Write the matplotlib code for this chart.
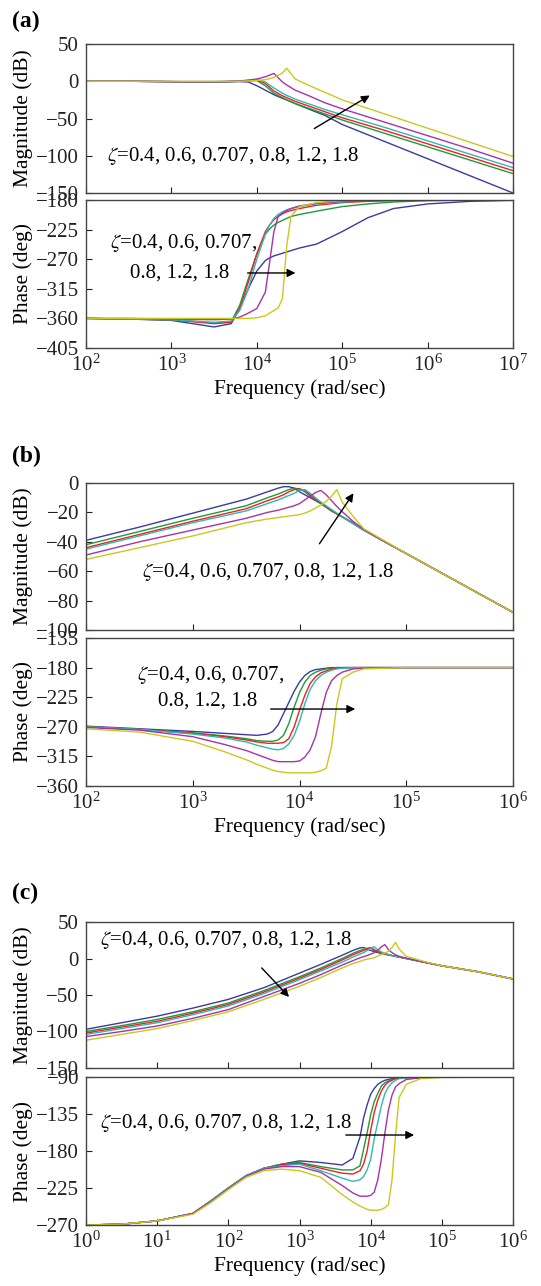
import numpy as np
import matplotlib
matplotlib.use("Agg")
import matplotlib.pyplot as plt
from matplotlib.ticker import LogLocator, NullLocator

plt.rcParams['font.family'] = ['Liberation Serif', 'DejaVu Serif']
plt.rcParams['mathtext.fontset'] = 'stix'

# plotting order, same in every panel
colors = ['#3b3ba0', '#1f9a3a', '#f02020', '#2fb8b8', '#a634a6', '#c9c91c']
zeta_text = r'$\zeta$=0.4, 0.6, 0.707, 0.8, 1.2, 1.8'

# ---- (a) magnitude, x given as log10(w)
a_mag_logw = [2, 2.5, 3, 3.5, 3.8, 3.9, 4.0, 4.1, 4.2, 4.3, 4.35, 4.45, 4.6, 4.8, 5.0, 5.5, 6.0, 6.5, 7.0]
a_mag_blue = [0, 0, -0.5, -1, -0.5, -1, -6, -12, -18, -23, -25, -30, -37, -46, -58, -81, -104, -127, -150]
a_mag_green = [0, 0, -0.5, -1, 0, 0.5, 1, -6, -16, -22, -25, -30, -36, -44, -52, -70, -88, -106, -124]
a_mag_red = [0, 0, -0.5, -1, 0, 1, 2, -3, -13, -19.5, -22, -27, -33, -41, -49, -66, -84, -102, -120]
a_mag_cyan = [0, 0, -0.5, -1, 0, 1, 2.5, -1, -9, -16, -19, -24, -30, -38, -45, -62, -80, -98, -116]
a_mag_magenta = [0, 0, -0.5, -0.5, 0.5, 1.5, 3, 6, 10.5, -1, -5, -12, -19, -29, -37, -55, -73, -91, -110]
a_mag_yellow = [0, 0, 0, 0, 0, 0.5, 1, 2, 5, 11, 17.5, 3, -5, -15, -25, -44, -63, -82, -101]

# ---- (a) phase
a_ph_logw = [2, 2.5, 3, 3.5, 3.7, 3.8, 3.9, 4.0, 4.1, 4.15, 4.2, 4.25, 4.3, 4.35, 4.4, 4.5, 4.7, 5.0, 5.3, 5.6, 6.0, 6.5, 7.0]
a_ph_blue = [-360, -361, -363, -373, -368, -345, -315, -288, -272, -268, -265, -263, -261, -259, -257, -253, -247, -228, -207, -193, -186, -182, -180.5]
a_ph_green = [-360, -361, -362, -367, -365, -340, -300, -262, -232, -224, -218, -214, -211, -208, -205, -202, -197, -190, -186, -183, -181, -180, -180]
a_ph_red = [-360, -361, -362, -368, -366, -345, -305, -262, -228, -218, -210, -205, -201, -198, -196, -193, -188, -184, -182, -181, -180, -180, -180]
a_ph_cyan = [-360, -361, -362, -366, -364, -348, -315, -270, -232, -218, -208, -202, -198, -195, -193, -190, -186, -183, -181, -180.5, -180, -180, -180]
a_ph_magenta = [-360, -360, -361, -362, -361, -358, -352, -345, -320, -275, -228, -205, -200, -196, -193, -189, -185, -182, -181, -180, -180, -180, -180]
a_ph_yellow = [-360, -360, -360, -360, -360, -360, -360, -359, -356, -352, -348, -344, -330, -250, -205, -190, -184, -181, -180, -180, -180, -180, -180]

# ---- (b) magnitude
b_mag_logw = [2, 2.5, 3, 3.5, 3.7, 3.8, 3.85, 3.9, 3.95, 4.0, 4.05, 4.1, 4.15, 4.2, 4.25, 4.3, 4.35, 4.4, 4.5, 4.6, 4.8, 5.0, 5.5, 6.0]
b_mag_blue = [-39, -30, -20.5, -11, -6, -3.5, -2.5, -2.5, -3.5, -6, -8, -10, -12, -14, -16.5, -19, -21, -23, -27, -31.5, -40, -48, -68, -88]
b_mag_green = [-42, -33, -24, -15.5, -10, -7.5, -6, -4.5, -3.5, -4, -6, -9, -11.5, -14, -16.5, -19, -21, -23, -27.5, -32, -40, -48, -68, -88]
b_mag_red = [-44, -35, -26, -17.5, -12, -9.5, -8, -6, -4.5, -4, -5, -8, -11, -13.5, -16, -18.5, -21, -23, -27.5, -32, -40, -48, -68, -88]
b_mag_cyan = [-45, -36, -27, -19, -14, -11.5, -10, -8.5, -7, -5, -4.5, -7, -10, -13, -15.5, -18, -20.5, -23, -27.5, -32, -40, -48, -68, -88]
b_mag_magenta = [-49, -40, -32, -24, -20, -18.5, -17.5, -16.5, -15.5, -14, -11.5, -9, -6.5, -5, -8, -12, -16, -19.5, -26, -31.5, -40, -48, -68, -88]
b_mag_yellow = [-52, -44, -36, -27, -24.5, -23.5, -23, -22.5, -22, -21.5, -20.5, -19, -17, -15, -12.5, -9, -4.5, -13, -22.5, -31, -39.5, -48, -68, -88]

# ---- (b) phase
b_ph_logw = [2, 2.5, 3, 3.3, 3.5, 3.6, 3.7, 3.75, 3.8, 3.85, 3.9, 3.95, 4.0, 4.05, 4.1, 4.15, 4.2, 4.25, 4.3, 4.35, 4.4, 4.5, 4.6, 5.0, 6.0]
b_ph_blue = [-269, -273, -277, -280, -282, -283, -281, -277, -267, -250, -233, -216, -202, -192, -186, -183, -182, -181, -180, -180, -180, -180, -180, -180, -180]
b_ph_green = [-270, -274, -279, -284, -288, -291, -292, -292, -290, -283, -265, -240, -218, -202, -192, -187, -184, -182, -181, -180, -180, -180, -180, -180, -180]
b_ph_red = [-270, -274, -280, -285, -290, -293, -295, -295, -295, -294, -288, -270, -245, -222, -204, -194, -188, -185, -182, -181, -180, -180, -180, -180, -180]
b_ph_cyan = [-270, -274, -281, -287, -293, -298, -302, -304, -305, -303, -296, -283, -262, -235, -213, -200, -192, -187, -184, -182, -181, -180, -180, -180, -180]
b_ph_magenta = [-271, -275, -285, -297, -306, -312, -318, -321, -323, -323, -323, -323, -322, -316, -305, -285, -250, -218, -200, -192, -187, -182, -181, -180, -180]
b_ph_yellow = [-273, -278, -292, -308, -320, -327, -333, -336, -338, -339, -340, -340, -340, -340, -340, -339, -337, -333, -300, -235, -197, -187, -182, -180, -180]

# ---- (c) magnitude
c_mag_logw = [0, 0.5, 1, 1.5, 2, 2.5, 3, 3.3, 3.6, 3.75, 3.85, 3.9, 3.95, 4.0, 4.05, 4.1, 4.15, 4.2, 4.25, 4.3, 4.35, 4.4, 4.5, 4.75, 5.0, 5.5, 6.0]
c_mag_blue = [-97, -88, -79, -68, -56, -40, -20, -8, 4.5, 11, 14.5, 15, 13, 11, 9.5, 8, 7, 6, 5, 4, 3, 2, 0, -5, -10, -18, -28]
c_mag_green = [-100, -92, -83.5, -73, -61, -44, -25, -13, 0, 7, 11, 12.5, 14, 14.5, 11, 9, 7.5, 6, 5, 4, 3, 2, 0, -5, -10, -18, -28]
c_mag_red = [-102, -94, -86, -75, -63, -46, -27, -15, -2, 5, 9, 11, 13, 15, 12, 9.5, 7.5, 6, 5, 4, 3, 2, 0, -5, -10, -18, -28]
c_mag_cyan = [-104, -96, -88, -77, -65, -48, -29, -17, -5, 2, 6, 8, 11, 14, 16, 12, 9, 7, 5.5, 4, 3, 2, 0, -5, -10, -18, -28]
c_mag_magenta = [-107, -100, -92.5, -82, -70, -52, -34, -22, -9, -3, 1, 2.5, 4, 6, 8, 11, 16, 19, 12, 8, 5, 3, 0.5, -5, -10, -18, -28]
c_mag_yellow = [-112, -104, -96, -85, -73, -56, -38, -26, -13, -7, -4, -2, -1, 0, 1, 3.5, 5.5, 7.5, 10, 15, 22, 13, 3, -4, -10, -18, -28]

# ---- (c) phase
c_ph_logw = [0, 0.5, 1, 1.5, 1.75, 2, 2.25, 2.5, 2.75, 3, 3.3, 3.6, 3.75, 3.85, 3.9, 3.95, 4.0, 4.05, 4.1, 4.15, 4.2, 4.25, 4.3, 4.35, 4.4, 4.5, 4.7, 5.0, 6.0]
c_ph_blue = [-270, -269, -265, -256, -241, -225, -210, -201, -196, -192, -194, -197, -189, -163, -140, -124, -111, -104, -99, -96, -94, -93, -92, -91, -91, -90.5, -90, -90, -90]
c_ph_green = [-270, -269, -265, -256, -241, -225, -210, -201, -196, -194, -199, -203, -203, -198, -178, -158, -136, -120, -110, -101, -97, -95, -93, -92, -91, -90.5, -90, -90, -90]
c_ph_red = [-270, -269, -265, -256, -241, -225, -210, -201, -197, -195, -201, -207, -208, -204, -196, -180, -155, -133, -118, -107, -100, -96, -94, -92, -91.5, -91, -90.5, -90, -90]
c_ph_cyan = [-270, -269, -265, -256, -241, -225, -210, -201, -198, -196, -204, -213, -217, -215, -211, -203, -190, -165, -145, -125, -110, -102, -97, -94, -92, -91, -90.5, -90, -90]
c_ph_magenta = [-270, -269, -265, -256, -242, -226, -211, -202, -199, -199, -206, -222, -231, -235, -235, -235, -234, -230, -215, -190, -158, -130, -112, -102, -98, -93, -91, -90, -90]
c_ph_yellow = [-270, -269, -265, -257, -243, -227, -212, -204, -202, -204, -212, -233, -242, -247, -249, -251, -252, -252, -252, -251, -249, -245, -215, -160, -115, -99, -92, -90.5, -90]

W, H = 541, 1286
fig = plt.figure(figsize=(W / 100, H / 100), dpi=100)


def add_ax(top, bottom):
    # axes box from pixel rows of the reference
    return fig.add_axes([86 / W, 1 - bottom / H, 427 / W, (bottom - top) / H])


def draw(ax, logw, curves, xlim, ylim, yticks, ylabel, show_x):
    w = 10.0 ** np.array(logw)
    for vals, c in zip(curves, colors):
        ax.plot(w, vals, color=c, lw=1.0)
    ax.set_xscale('log')
    ax.set_xlim(*xlim)
    ax.set_ylim(*ylim)
    ax.set_yticks(yticks)
    ax.xaxis.set_major_locator(LogLocator(base=10, numticks=12))
    ax.xaxis.set_minor_locator(NullLocator())
    ax.tick_params(direction='in', length=4, width=0.8, labelsize=15,
                   top=False, right=False, pad=5, colors='#222222')
    for s in ax.spines.values():
        s.set_color('#444444')
        s.set_linewidth(1.0)
    ax.set_ylabel(ylabel, fontsize=15.5)
    ax.yaxis.set_label_coords(-0.123, 0.5)
    if show_x:
        ax.set_xlabel('Frequency (rad/sec)', fontsize=15.5, labelpad=2)
    else:
        ax.tick_params(labelbottom=False)


def arrow(ax, start, end):
    ax.annotate('', xy=end, xytext=start, xycoords='axes fraction',
                arrowprops=dict(arrowstyle='-|>', color='k', lw=1.0, mutation_scale=12))


# (a)
ax = add_ax(44, 193)
draw(ax, a_mag_logw, [a_mag_blue, a_mag_green, a_mag_red, a_mag_cyan, a_mag_magenta, a_mag_yellow],
     (1e2, 1e7), (-150, 50), [50, 0, -50, -100, -150], 'Magnitude (dB)', False)
ax.text(0.05, 0.25, zeta_text, transform=ax.transAxes, fontsize=15, va='center')
arrow(ax, (0.529, 0.423), (0.670, 0.664))

ax = add_ax(200, 348)
draw(ax, a_ph_logw, [a_ph_blue, a_ph_green, a_ph_red, a_ph_cyan, a_ph_magenta, a_ph_yellow],
     (1e2, 1e7), (-405, -180), [-180, -225, -270, -315, -360, -405], 'Phase (deg)', True)
ax.text(0.056, 0.71, r'$\zeta$=0.4, 0.6, 0.707,', transform=ax.transAxes, fontsize=15, va='center')
ax.text(0.103, 0.507, '0.8, 1.2, 1.8', transform=ax.transAxes, fontsize=15, va='center')
arrow(ax, (0.372, 0.507), (0.497, 0.507))

# (b)
ax = add_ax(483, 630)
draw(ax, b_mag_logw, [b_mag_blue, b_mag_green, b_mag_red, b_mag_cyan, b_mag_magenta, b_mag_yellow],
     (1e2, 1e6), (-100, 0), [0, -20, -40, -60, -80, -100], 'Magnitude (dB)', False)
ax.text(0.131, 0.395, zeta_text, transform=ax.transAxes, fontsize=15, va='center')
arrow(ax, (0.543, 0.571), (0.630, 0.946))

ax = add_ax(638, 786)
draw(ax, b_ph_logw, [b_ph_blue, b_ph_green, b_ph_red, b_ph_cyan, b_ph_magenta, b_ph_yellow],
     (1e2, 1e6), (-360, -135), [-135, -180, -225, -270, -315, -360], 'Phase (deg)', True)
ax.text(0.119, 0.75, r'$\zeta$=0.4, 0.6, 0.707,', transform=ax.transAxes, fontsize=15, va='center')
ax.text(0.169, 0.574, '0.8, 1.2, 1.8', transform=ax.transAxes, fontsize=15, va='center')
arrow(ax, (0.426, 0.52), (0.637, 0.52))

# (c)
ax = add_ax(922, 1068)
draw(ax, c_mag_logw, [c_mag_blue, c_mag_green, c_mag_red, c_mag_cyan, c_mag_magenta, c_mag_yellow],
     (1e0, 1e6), (-150, 50), [50, 0, -50, -100, -150], 'Magnitude (dB)', False)
ax.text(0.033, 0.877, zeta_text, transform=ax.transAxes, fontsize=15, va='center')
arrow(ax, (0.407, 0.699), (0.480, 0.473))

ax = add_ax(1077, 1225)
draw(ax, c_ph_logw, [c_ph_blue, c_ph_green, c_ph_red, c_ph_cyan, c_ph_magenta, c_ph_yellow],
     (1e0, 1e6), (-270, -90), [-90, -135, -180, -225, -270], 'Phase (deg)', True)
ax.text(0.033, 0.689, zeta_text, transform=ax.transAxes, fontsize=15, va='center')
arrow(ax, (0.602, 0.608), (0.775, 0.608))

# panel letters
for lab, y in [('(a)', 21), ('(b)', 456), ('(c)', 893)]:
    fig.text(12 / W, 1 - y / H, lab, fontsize=17, fontweight='bold', va='center', ha='left')

fig.savefig('out.png', dpi=100)
